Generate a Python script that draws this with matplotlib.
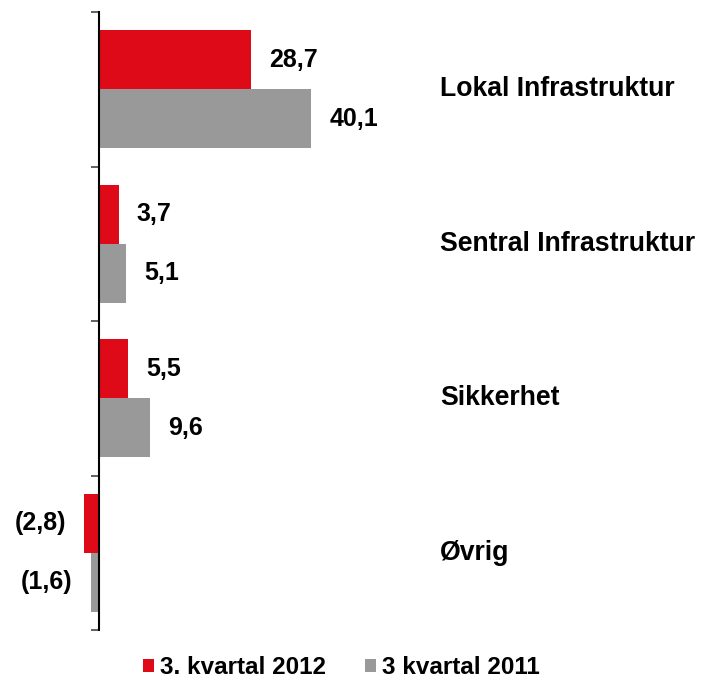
import matplotlib.pyplot as plt

plt.rcParams['font.family'] = ['Liberation Sans', 'DejaVu Sans']
plt.rcParams['font.weight'] = 'bold'

categories = ['Lokal Infrastruktur', 'Sentral Infrastruktur', 'Sikkerhet', 'Øvrig']
q3_2012 = [28.7, 3.7, 5.5, -2.8]
q3_2011 = [40.1, 5.1, 9.6, -1.6]
series_names = ['3. kvartal 2012', '3 kvartal 2011']

red = '#DF0A17'
grey = '#999999'

fig = plt.figure(figsize=(7.01, 6.82), dpi=100)
ax = fig.add_axes([0.0, 1 - 630 / 682, 1.0, (630 - 12) / 682])

px_per_unit = 5.29
ax.set_xlim(-99 / px_per_unit, (701 - 99) / px_per_unit)
ax.set_ylim(3.5, -0.5)

h = 0.383
ypos = list(range(len(categories)))
b1 = ax.barh([y - h / 2 for y in ypos], q3_2012, height=h, color=red, label=series_names[0])
b2 = ax.barh([y + h / 2 for y in ypos], q3_2011, height=h, color=grey, label=series_names[1])

def fmt(v):
    s = f'{abs(v):.1f}'.replace('.', ',')
    return f'({s})' if v < 0 else s

for bars, vals in [(b1, q3_2012), (b2, q3_2011)]:
    for bar, v in zip(bars, vals):
        yc = bar.get_y() + bar.get_height() / 2
        off = 13 if v >= 0 else -13
        ax.annotate(fmt(v), (v, yc), xytext=(off, 0), textcoords='offset points',
                    ha='left' if v >= 0 else 'right', va='center',
                    fontsize=18, fontweight='bold', color='black')

for y, c in zip(ypos, categories):
    ax.text((440 - 99) / px_per_unit, y, c, ha='left', va='center',
            fontsize=19.2, fontweight='bold', color='black')

for s in ['top', 'right', 'bottom']:
    ax.spines[s].set_visible(False)
ax.spines['left'].set_position(('data', 0))
ax.spines['left'].set_linewidth(1.5)
ax.spines['left'].set_color('black')
ax.set_xticks([])
ax.set_yticks([-0.5, 0.5, 1.5, 2.5, 3.5])
ax.set_yticklabels([])
ax.tick_params(axis='y', direction='out', length=6, width=1.3, color='#555555')

fig.legend(handles=[b1, b2], loc='center', bbox_to_anchor=(0.487, 0.021),
           ncol=2, frameon=False, fontsize=17.5, handlelength=0.45, handleheight=0.45,
           handletextpad=0.25, columnspacing=1.6, borderaxespad=0)

fig.savefig('out.png', dpi=100)
